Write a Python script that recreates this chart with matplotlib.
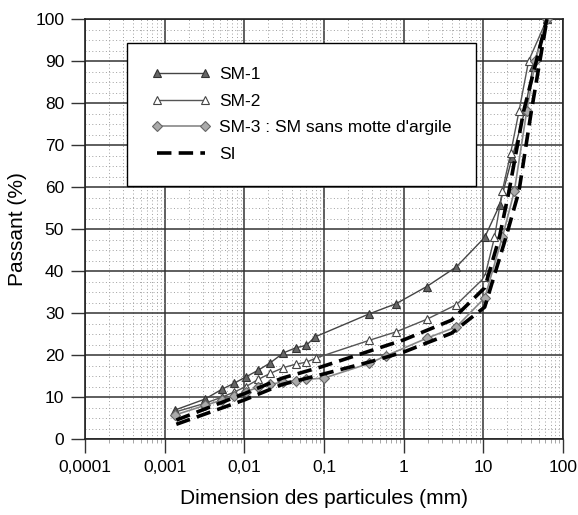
import matplotlib.pyplot as plt
from matplotlib.ticker import FixedLocator, LogLocator, MultipleLocator, NullFormatter

plt.rcParams['font.family'] = ['Liberation Sans', 'DejaVu Sans']

# dados (dimensao em mm, passant em %)
sm1_d = [0.00135, 0.0032, 0.0053, 0.0075, 0.0105, 0.015, 0.021, 0.031, 0.044, 0.06, 0.077,
         0.37, 0.8, 1.95, 4.6, 10.4, 16, 23, 33, 42, 63]
sm1_p = [6.9, 9.5, 11.9, 13.3, 14.8, 16.4, 18.1, 20.5, 21.7, 22.3, 24.3,
         29.8, 32.2, 36.3, 41.0, 48.0, 55.7, 67.0, 78.0, 88.6, 100]

sm2_d = [0.00134, 0.0032, 0.0053, 0.0075, 0.0105, 0.015, 0.021, 0.031, 0.044, 0.06, 0.08,
         0.37, 0.8, 1.95, 4.6, 10.4, 13.8, 17.3, 22, 28, 37, 63]
sm2_p = [6.4, 8.5, 10.0, 11.2, 12.5, 14.2, 15.6, 17.0, 17.8, 18.3, 19.3,
         23.5, 25.5, 28.5, 32.0, 38.5, 48.0, 59.0, 68.0, 78.0, 90.0, 100]

sm3_d = [0.00134, 0.0032, 0.0053, 0.0075, 0.0105, 0.015, 0.021, 0.031, 0.044, 0.06, 0.1,
         0.37, 0.6, 1.95, 4.6, 10.4, 17.3, 24.5, 35, 45, 63]
sm3_p = [5.7, 8.0, 9.3, 10.2, 11.3, 12.3, 13.0, 13.6, 13.9, 14.2, 14.5,
         18.0, 19.8, 24.0, 26.7, 33.6, 48.0, 59.0, 78.0, 90.0, 100]

si_sup_d = [0.0014, 0.01, 0.03, 0.09, 1.0, 4.0, 10.4, 15.9, 21, 32, 63]
si_sup_p = [4.5, 10.8, 14.5, 17.1, 23.6, 28.3, 36.0, 48.0, 59.0, 78.0, 100]

si_inf_d = [0.0014, 0.01, 0.03, 0.1, 0.4, 1.0, 4.0, 10.4, 19.2, 28, 40, 63]
si_inf_p = [3.5, 9.3, 13.0, 15.5, 18.5, 20.7, 25.2, 31.4, 48.0, 59.0, 78.0, 100]

x_ticks = [0.0001, 0.001, 0.01, 0.1, 1, 10, 100]
x_labels = ['0,0001', '0,001', '0,01', '0,1', '1', '10', '100']

fig = plt.figure(figsize=(5.78, 5.15), dpi=100)
ax = fig.add_axes([85 / 578, 76 / 515, 478 / 578, 420 / 515])

ax.plot(sm1_d, sm1_p, color='#444444', lw=1.0, marker='^', ms=6,
        mfc='#666666', mec='#333333', mew=0.8, label='SM-1', zorder=4)
ax.plot(sm2_d, sm2_p, color='#555555', lw=1.0, marker='^', ms=6,
        mfc='white', mec='#444444', mew=0.8, label='SM-2', zorder=4)
ax.plot(sm3_d, sm3_p, color='#888888', lw=1.2, marker='D', ms=5,
        mfc='#aaaaaa', mec='#666666', mew=0.8, label='SM-3 : SM sans motte d\'argile', zorder=4)
ax.plot(si_sup_d, si_sup_p, color='black', lw=2.6, ls=(0, (4, 2)), label='SI', zorder=5)
ax.plot(si_inf_d, si_inf_p, color='black', lw=2.6, ls=(0, (4, 2)), zorder=5)

ax.set_xscale('log')
ax.set_xlim(0.0001, 100)
ax.set_ylim(0, 100)
ax.xaxis.set_major_locator(FixedLocator(x_ticks))
ax.set_xticklabels(x_labels)
ax.xaxis.set_minor_locator(LogLocator(base=10, subs=range(2, 10), numticks=20))
ax.xaxis.set_minor_formatter(NullFormatter())
ax.yaxis.set_major_locator(MultipleLocator(10))
ax.yaxis.set_minor_locator(MultipleLocator(2.5))

ax.grid(which='major', color='#333333', lw=1.1, ls='-')
ax.grid(which='minor', color='#a0a0a0', lw=0.7, ls=(0, (1, 2.5)))
ax.set_axisbelow(True)

ax.tick_params(which='major', direction='out', length=10, width=1.0, color='#333333',
               labelsize=12.5, pad=5)
ax.tick_params(which='minor', direction='out', length=3, width=0.6, color='#999999')
ax.tick_params(axis='y', which='minor', length=0)
for s in ax.spines.values():
    s.set_color('#222222')
    s.set_linewidth(1.2)

ax.set_xlabel('Dimension des particules (mm)', fontsize=15, labelpad=10)
ax.set_ylabel('Passant (%)', fontsize=15, labelpad=6)

leg = ax.legend(loc='upper left', bbox_to_anchor=(127 / 578, 1 - 43 / 515),
                bbox_transform=fig.transFigure, fontsize=12.5, frameon=True,
                fancybox=False, framealpha=1, edgecolor='black', borderpad=1.4,
                handlelength=3.4, handletextpad=0.5, labelspacing=0.65, numpoints=2,
                borderaxespad=0)
leg.get_frame().set_linewidth(1.0)
leg.set_zorder(10)

plt.savefig('out.png', dpi=100)
